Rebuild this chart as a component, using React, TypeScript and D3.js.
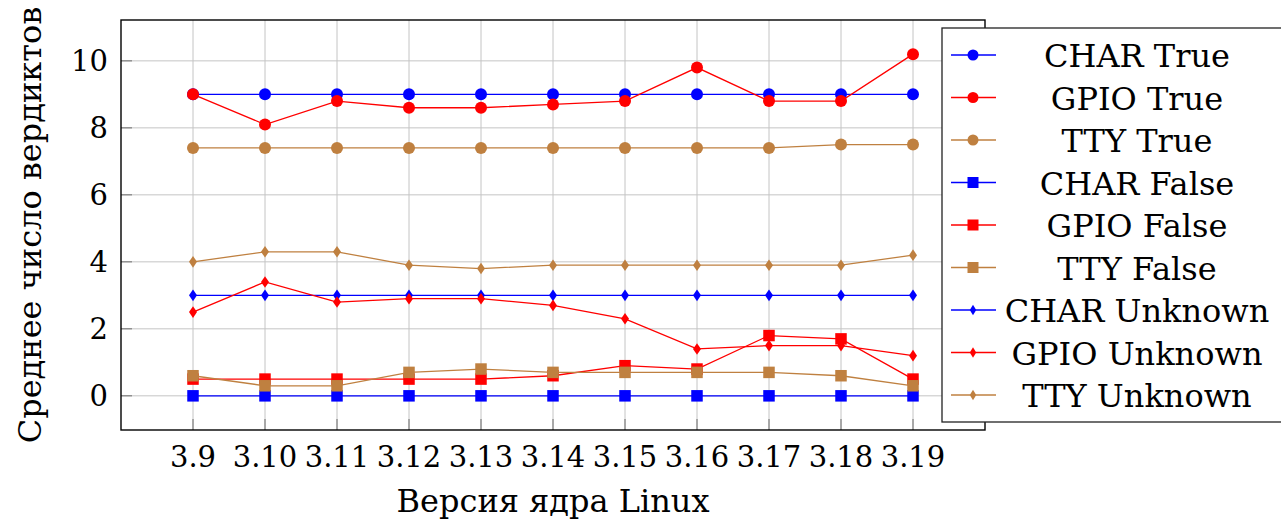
import * as d3 from "d3";

const versions = ["3.9", "3.10", "3.11", "3.12", "3.13", "3.14", "3.15", "3.16", "3.17", "3.18", "3.19"];

const charTrue = [9, 9, 9, 9, 9, 9, 9, 9, 9, 9, 9];
const gpioTrue = [9, 8.1, 8.8, 8.6, 8.6, 8.7, 8.8, 9.8, 8.8, 8.8, 10.2];
const ttyTrue = [7.4, 7.4, 7.4, 7.4, 7.4, 7.4, 7.4, 7.4, 7.4, 7.5, 7.5];
const charFalse = [0, 0, 0, 0, 0, 0, 0, 0, 0, 0, 0];
const gpioFalse = [0.5, 0.5, 0.5, 0.5, 0.5, 0.6, 0.9, 0.8, 1.8, 1.7, 0.5];
const ttyFalse = [0.6, 0.3, 0.3, 0.7, 0.8, 0.7, 0.7, 0.7, 0.7, 0.6, 0.3];
const charUnknown = [3, 3, 3, 3, 3, 3, 3, 3, 3, 3, 3];
const gpioUnknown = [2.5, 3.4, 2.8, 2.9, 2.9, 2.7, 2.3, 1.4, 1.5, 1.5, 1.2];
const ttyUnknown = [4, 4.3, 4.3, 3.9, 3.8, 3.9, 3.9, 3.9, 3.9, 3.9, 4.2];

const yTicks = [0, 2, 4, 6, 8, 10];

const BLUE = "#0000ff";
const RED = "#ff0000";
const BROWN = "#bf8040";

const series = [
  { name: "CHAR True", values: charTrue, color: BLUE, mark: "circle" },
  { name: "GPIO True", values: gpioTrue, color: RED, mark: "circle" },
  { name: "TTY True", values: ttyTrue, color: BROWN, mark: "circle" },
  { name: "CHAR False", values: charFalse, color: BLUE, mark: "square" },
  { name: "GPIO False", values: gpioFalse, color: RED, mark: "square" },
  { name: "TTY False", values: ttyFalse, color: BROWN, mark: "square" },
  { name: "CHAR Unknown", values: charUnknown, color: BLUE, mark: "diamond" },
  { name: "GPIO Unknown", values: gpioUnknown, color: RED, mark: "diamond" },
  { name: "TTY Unknown", values: ttyUnknown, color: BROWN, mark: "diamond" },
];

const FONT = '"DejaVu Serif", serif';

function Marker({ kind, x, y, color, small }: { kind: string; x: number; y: number; color: string; small?: boolean }) {
  if (kind === "circle") {
    return <circle cx={x} cy={y} r={small ? 5.5 : 6} fill={color} />;
  }
  if (kind === "square") {
    const s = small ? 11 : 11.5;
    return <rect x={x - s / 2} y={y - s / 2} width={s} height={s} fill={color} />;
  }
  const w = small ? 3.2 : 4;
  const h = small ? 5.2 : 5.8;
  return <path d={`M${x},${y - h}L${x + w},${y}L${x},${y + h}L${x - w},${y}Z`} fill={color} />;
}

export default function App() {
  const width = 1281;
  const height = 524;
  const left = 121;
  const right = 985;
  const top = 20;
  const bottom = 430;

  const x = d3.scaleLinear().domain([-1, versions.length]).range([left, right]);
  const y = d3.scaleLinear().domain([-1.02, 11.22]).range([bottom, top]);

  const line = d3
    .line<number>()
    .x((_, i) => x(i))
    .y((d) => y(d));

  const legendX = 942;
  const legendTop = 28;
  const legendBottom = 422;
  const rowStep = (legendBottom - legendTop - 54) / (series.length - 1);

  const labelStyle = { fontFamily: FONT, fontSize: 32 };
  const tickStyle = { fontFamily: FONT, fontSize: 29 };

  return (
    <svg
      width={width}
      height={height}
      style={{ position: "absolute", left: 0, top: 0, background: "#fff", fontFamily: FONT }}
    >
      {/* grid */}
      <g stroke="#c4c4c4" strokeWidth={1}>
        {versions.map((v, i) => (
          <line key={v} x1={x(i)} x2={x(i)} y1={top} y2={bottom} />
        ))}
        {yTicks.map((t) => (
          <line key={t} x1={left} x2={right} y1={y(t)} y2={y(t)} />
        ))}
      </g>
      {/* tick marks */}
      <g stroke="#6e6e6e" strokeWidth={1}>
        {versions.map((v, i) => (
          <line key={v} x1={x(i)} x2={x(i)} y1={bottom} y2={bottom - 11} />
        ))}
        {yTicks.map((t) => (
          <line key={t} x1={left} x2={left + 11} y1={y(t)} y2={y(t)} />
        ))}
      </g>
      {/* series */}
      {series.map((s) => (
        <g key={s.name}>
          <path d={line(s.values) ?? ""} fill="none" stroke={s.color} strokeWidth={1.3} />
          {s.values.map((v, i) => (
            <Marker key={i} kind={s.mark} x={x(i)} y={y(v)} color={s.color} />
          ))}
        </g>
      ))}
      {/* frame */}
      <rect x={left} y={top} width={right - left} height={bottom - top} fill="none" stroke="#000" strokeWidth={1.4} />
      {/* tick labels */}
      <g fill="#000">
        {versions.map((v, i) => (
          <text key={v} x={x(i)} y={467} textAnchor="middle" style={tickStyle}>
            {v}
          </text>
        ))}
        {yTicks.map((t) => (
          <text key={t} x={108} y={y(t) + 10} textAnchor="end" style={tickStyle}>
            {t}
          </text>
        ))}
      </g>
      {/* axis labels */}
      <text x={(left + right) / 2} y={512} textAnchor="middle" style={labelStyle}>
        Версия ядра Linux
      </text>
      <text
        transform={`translate(41,${(top + bottom) / 2}) rotate(-90)`}
        textAnchor="middle"
        style={labelStyle}
      >
        Среднее число вердиктов
      </text>
      {/* legend */}
      <rect
        x={legendX}
        y={legendTop}
        width={width - legendX + 2}
        height={legendBottom - legendTop}
        fill="#fff"
        stroke="#222"
        strokeWidth={1.3}
      />
      {series.map((s, i) => {
        const ry = legendTop + 27 + i * rowStep;
        return (
          <g key={s.name}>
            <line x1={951} x2={996} y1={ry} y2={ry} stroke={s.color} strokeWidth={1.3} />
            <Marker kind={s.mark} x={973} y={ry} color={s.color} small />
            <text x={1137} y={ry + 12} textAnchor="middle" style={labelStyle}>
              {s.name}
            </text>
          </g>
        );
      })}
    </svg>
  );
}
